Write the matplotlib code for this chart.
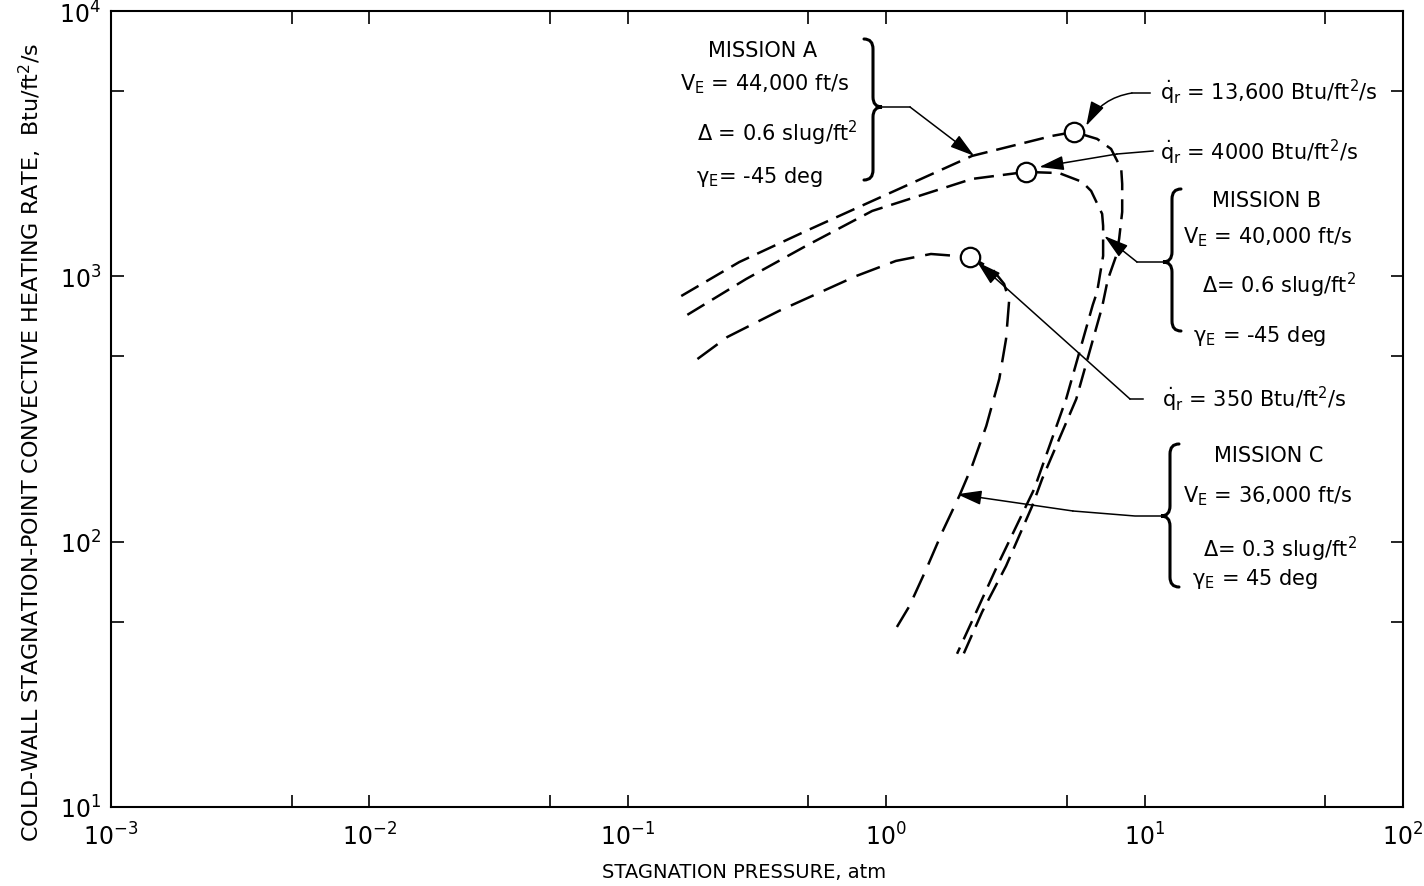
import matplotlib
matplotlib.use('Agg')
import matplotlib.pyplot as plt
from matplotlib.path import Path
from matplotlib.patches import PathPatch
from matplotlib.transforms import Affine2D
from matplotlib.ticker import LogLocator, FixedLocator, NullFormatter

plt.rcParams['font.family'] = 'DejaVu Sans'
plt.rcParams['mathtext.fontset'] = 'custom'
plt.rcParams['mathtext.rm'] = 'DejaVu Sans'
plt.rcParams['mathtext.it'] = 'DejaVu Sans'

# Mission A: V_E = 44,000 ft/s (stagnation pressure atm, heating rate Btu/ft2/s)
a_p = [0.161, 0.270, 0.490, 0.883, 2.15, 4.39, 5.34, 6.55, 7.42, 8.12, 8.19, 8.19,
       7.97, 7.76, 7.2, 6.85, 5.44, 4.01, 3.67, 2.91, 2.35, 1.97]
a_q = [843, 1132, 1483, 1923, 2844, 3383, 3502, 3296, 3020, 2541, 2230, 1749,
       1384, 1194, 970, 767, 345, 172, 136, 81, 54.3, 36.8]

# Mission B: V_E = 40,000 ft/s
b_p = [0.170, 0.287, 0.490, 0.883, 2.15, 3.48, 4.67, 5.73, 6.21, 6.85, 6.91, 6.91,
       6.55, 6.30, 4.97, 3.74, 2.69, 2.23, 1.88]
b_q = [716, 977, 1303, 1764, 2329, 2475, 2450, 2270, 2098, 1719, 1549, 1194,
       874, 780, 345, 158, 81, 54.3, 37.8]

# Mission C: V_E = 36,000 ft/s
c_p = [0.186, 0.243, 0.385, 0.766, 1.09, 1.49, 2.11, 2.57, 2.86, 2.99, 2.91, 2.74,
       2.44, 2.15, 1.92, 1.65, 1.43, 1.23, 1.10]
c_q = [488, 591, 741, 1003, 1143, 1214, 1183, 1066, 936, 808, 581, 411,
       273, 193, 149, 109, 78.9, 57.2, 47.7]

# peak convective heating points
peak_p = [5.34, 3.48, 2.11]
peak_q = [3502, 2475, 1183]

W, H = 1424, 887
fig = plt.figure(figsize=(W / 100, H / 100), dpi=100)
ax = fig.add_axes([111 / W, 1 - 808 / H, (1403 - 111) / W, (808 - 12) / H])
# reference-pixel coordinates for the annotation layout
px = Affine2D().scale(1 / W, -1 / H).translate(0, 1) + fig.transFigure

ax.plot(a_p, a_q, color='black', lw=1.8, linestyle=(0, (8, 3.6)))
ax.plot(b_p, b_q, color='black', lw=1.8, linestyle=(0, (8, 3.6)))
ax.plot(c_p, c_q, color='black', lw=1.8, linestyle=(0, (10, 4.4)))
ax.plot(peak_p, peak_q, 'o', ms=14, mfc='white', mec='black', mew=1.6, zorder=5)

ax.set_xscale('log')
ax.set_yscale('log')
ax.set_xlim(1e-3, 1e2)
ax.set_ylim(1e1, 1e4)
ax.xaxis.set_major_locator(LogLocator(base=10, numticks=10))
ax.yaxis.set_major_locator(LogLocator(base=10, numticks=10))
ax.xaxis.set_minor_locator(FixedLocator([5e-3, 5e-2, 5e-1, 5, 50]))
ax.yaxis.set_minor_locator(FixedLocator([50, 500, 5000]))
ax.xaxis.set_minor_formatter(NullFormatter())
ax.yaxis.set_minor_formatter(NullFormatter())
ax.tick_params(which='both', direction='in', length=9, width=1.2,
               top=True, right=True, labelsize=17)
ax.tick_params(axis='x', pad=11)
ax.tick_params(axis='y', pad=7)
for s in ax.spines.values():
    s.set_linewidth(1.5)

fig.text(744, 873, 'STAGNATION PRESSURE, atm', transform=px,
         ha='center', va='center', fontsize=14)
fig.text(30, 442, 'COLD-WALL STAGNATION-POINT CONVECTIVE HEATING RATE,  Btu/ft$^2$/s',
         transform=px, ha='center', va='center', rotation=90, fontsize=16)


def brace(xb, y0, y1, ym, d):
    w, r = 9, 10
    verts = [(xb - d * w, y0), (xb, y0), (xb, y0 + r),
             (xb, ym - r), (xb, ym), (xb + d * w, ym),
             (xb, ym), (xb, ym + r),
             (xb, y1 - r), (xb, y1), (xb - d * w, y1)]
    codes = [Path.MOVETO, Path.CURVE3, Path.CURVE3, Path.LINETO, Path.CURVE3, Path.CURVE3,
             Path.CURVE3, Path.CURVE3, Path.LINETO, Path.CURVE3, Path.CURVE3]
    fig.patches.append(PathPatch(Path(verts, codes), transform=px, fill=False,
                                 lw=2.2, capstyle='round'))


def label(x, y, s, ha='left'):
    fig.text(x, y, s, transform=px, ha=ha, va='baseline', fontsize=15)


def leader(pts, tip, rad=0.0):
    xs = [p[0] for p in pts]
    ys = [p[1] for p in pts]
    fig.add_artist(plt.Line2D(xs, ys, transform=px, color='black', lw=1.1))
    ax.annotate('', xy=tip, xycoords='data', xytext=pts[-1], textcoords=px,
                arrowprops=dict(arrowstyle='-|>,head_length=0.75,head_width=0.22',
                                mutation_scale=20, lw=1.1, color='black',
                                shrinkA=0, shrinkB=0,
                                connectionstyle=f'arc3,rad={rad}'))


# Mission A
label(763, 57, 'MISSION A', ha='center')
label(680, 90, 'V$_E$ = 44,000 ft/s')
label(697, 141, 'Δ = 0.6 slug/ft$^2$')
label(696, 183, 'γ$_E$= -45 deg')
brace(873, 40, 181, 108, 1)
leader([(881, 108), (910, 108)], (2.19, 2844))

# radiative heating labels
label(1160, 100, r'$\dot{q}_r$ = 13,600 Btu/ft$^2$/s')
leader([(1150, 94), (1132, 94)], (5.94, 3689), rad=0.25)
label(1160, 160, r'$\dot{q}_r$ = 4000 Btu/ft$^2$/s')
leader([(1153, 152), (1117, 155)], (3.91, 2582))
label(1162, 407, r'$\dot{q}_r$ = 350 Btu/ft$^2$/s')
leader([(1143, 400), (1130, 400)], (2.25, 1132))

# Mission B
label(1267, 207, 'MISSION B', ha='center')
label(1183, 243, 'V$_E$ = 40,000 ft/s')
label(1202, 293, 'Δ= 0.6 slug/ft$^2$')
label(1193, 342, 'γ$_E$ = -45 deg')
brace(1172, 190, 332, 263, -1)
leader([(1163, 263), (1137, 263)], (6.98, 1420))

# Mission C
label(1269, 462, 'MISSION C', ha='center')
label(1183, 502, 'V$_E$ = 36,000 ft/s')
label(1203, 557, 'Δ= 0.3 slug/ft$^2$')
label(1192, 585, 'γ$_E$ = 45 deg')
brace(1170, 445, 588, 517, -1)
leader([(1162, 517), (1135, 517), (1073, 512)], (1.88, 151))

fig.savefig('out.png', dpi=100)
